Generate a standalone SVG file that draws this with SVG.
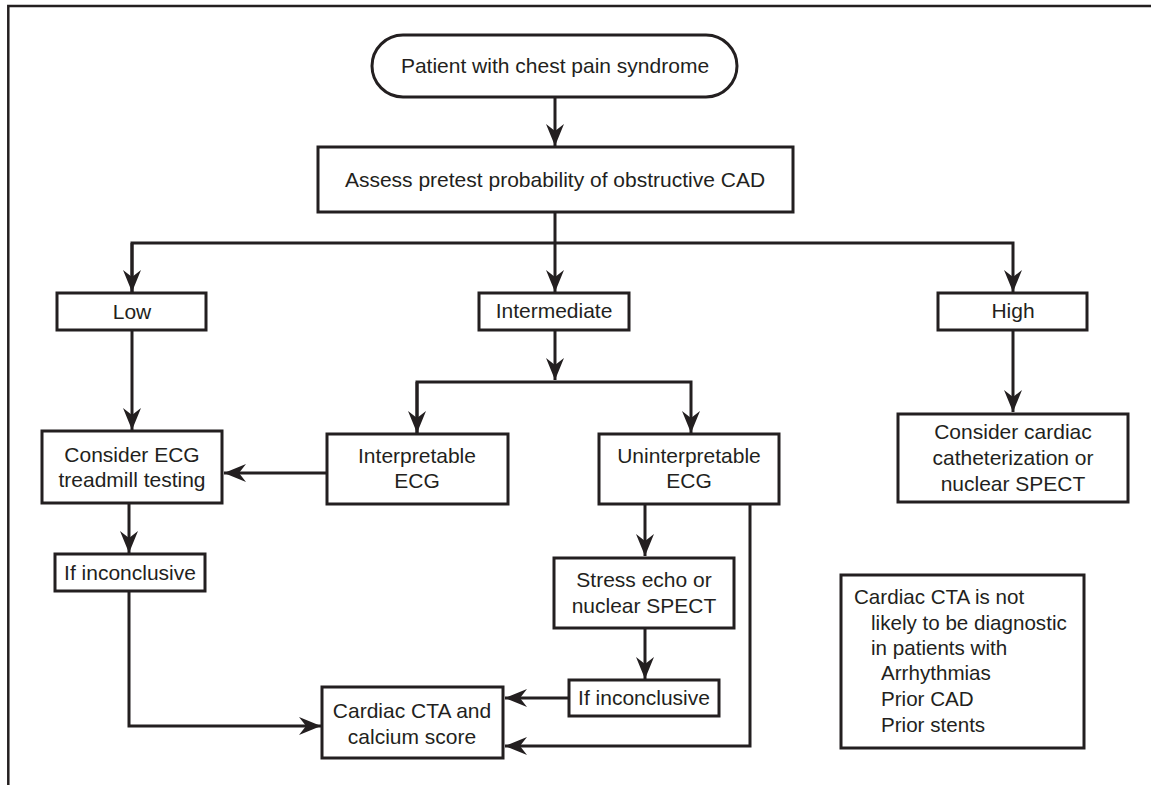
<svg xmlns="http://www.w3.org/2000/svg" width="1151" height="785" viewBox="0 0 1151 785">
<style>
.box{fill:#fff;stroke:#231f20;stroke-width:3}
.ln{fill:none;stroke:#231f20;stroke-width:3}
.t{font-family:"Liberation Sans",Arial,sans-serif;font-size:21px;fill:#231f20;text-anchor:middle}
.n{font-family:"Liberation Sans",Arial,sans-serif;font-size:20.6px;fill:#231f20}
</style>
<defs>
<marker id="ah" markerUnits="userSpaceOnUse" markerWidth="24" markerHeight="20" viewBox="-23 -10 24 20" refX="0" refY="0" orient="auto">
<path d="M0,0 L-22,-9 L-15,0 L-22,9 Z" fill="#231f20"/>
</marker>
</defs>
<rect width="1151" height="785" fill="#fff"/>
<g id="frame">
<path d="M8.3,785 V6 H1151" fill="none" stroke="#231f20" stroke-width="2.5"/>
</g>
<g id="connectors">
<path class="ln" d="M555,97 V146" marker-end="url(#ah)"/>
<path class="ln" d="M555,212 V243"/>
<path class="ln" d="M132,292 V243 H1013 V292" marker-end="url(#ah)"/>
<path class="ln" d="M132,243 V292" marker-end="url(#ah)"/>
<path class="ln" d="M555,243 V292" marker-end="url(#ah)"/>
<path class="ln" d="M132,330 V430" marker-end="url(#ah)"/>
<path class="ln" d="M555,330 V380" marker-end="url(#ah)"/>
<path class="ln" d="M417,433 V382 H691 V433" marker-end="url(#ah)"/>
<path class="ln" d="M417,382 V433" marker-end="url(#ah)"/>
<path class="ln" d="M1013,330 V412" marker-end="url(#ah)"/>
<path class="ln" d="M327,473 H224" marker-end="url(#ah)"/>
<path class="ln" d="M129,503 V553" marker-end="url(#ah)"/>
<path class="ln" d="M129,591 V726 H321" marker-end="url(#ah)"/>
<path class="ln" d="M645,504 V556" marker-end="url(#ah)"/>
<path class="ln" d="M645,628 V679" marker-end="url(#ah)"/>
<path class="ln" d="M569,698 H505" marker-end="url(#ah)"/>
<path class="ln" d="M750,504 V746 H505" marker-end="url(#ah)"/>
</g>
<g id="start">
<rect class="box" x="372" y="35" width="365" height="62" rx="31" ry="31"/>
<text class="t" x="555" y="73">Patient with chest pain syndrome</text>
</g>
<g id="assess">
<rect class="box" x="318" y="147" width="475" height="65"/>
<text class="t" x="555" y="187">Assess pretest probability of obstructive CAD</text>
</g>
<g id="low">
<rect class="box" x="57" y="293" width="149" height="37"/>
<text class="t" x="132" y="319">Low</text>
</g>
<g id="intermediate">
<rect class="box" x="479" y="293" width="150" height="37"/>
<text class="t" x="554" y="318">Intermediate</text>
</g>
<g id="high">
<rect class="box" x="938" y="293" width="149" height="37"/>
<text class="t" x="1013" y="318">High</text>
</g>
<g id="consider-ecg">
<rect class="box" x="42" y="431" width="180" height="72"/>
<text class="t" x="132" y="462">Consider ECG</text>
<text class="t" x="132" y="487">treadmill testing</text>
</g>
<g id="interpretable">
<rect class="box" x="327" y="434" width="181" height="70"/>
<text class="t" x="417" y="463">Interpretable</text>
<text class="t" x="417" y="488">ECG</text>
</g>
<g id="uninterpretable">
<rect class="box" x="599" y="434" width="180" height="70"/>
<text class="t" x="689" y="463">Uninterpretable</text>
<text class="t" x="689" y="488">ECG</text>
</g>
<g id="consider-cath">
<rect class="box" x="898" y="414" width="230" height="88"/>
<text class="t" x="1013" y="439">Consider cardiac</text>
<text class="t" x="1013" y="465">catheterization or</text>
<text class="t" x="1013" y="491">nuclear SPECT</text>
</g>
<g id="inconclusive-1">
<rect class="box" x="55" y="554" width="150" height="37"/>
<text class="t" x="130" y="580">If inconclusive</text>
</g>
<g id="stress">
<rect class="box" x="554" y="558" width="180" height="70"/>
<text class="t" x="644" y="587">Stress echo or</text>
<text class="t" x="644" y="613">nuclear SPECT</text>
</g>
<g id="inconclusive-2">
<rect class="box" x="569" y="680" width="150" height="36"/>
<text class="t" x="644" y="705">If inconclusive</text>
</g>
<g id="cta">
<rect class="box" x="322" y="687" width="181" height="71"/>
<text class="t" x="412" y="718">Cardiac CTA and</text>
<text class="t" x="412" y="744">calcium score</text>
</g>
<g id="note">
<rect class="box" x="841" y="575" width="243" height="173"/>
<text class="n" x="854" y="604">Cardiac CTA is not</text>
<text class="n" x="871" y="630">likely to be diagnostic</text>
<text class="n" x="871" y="655">in patients with</text>
<text class="n" x="881" y="680">Arrhythmias</text>
<text class="n" x="881" y="706">Prior CAD</text>
<text class="n" x="881" y="732">Prior stents</text>
</g>
</svg>
